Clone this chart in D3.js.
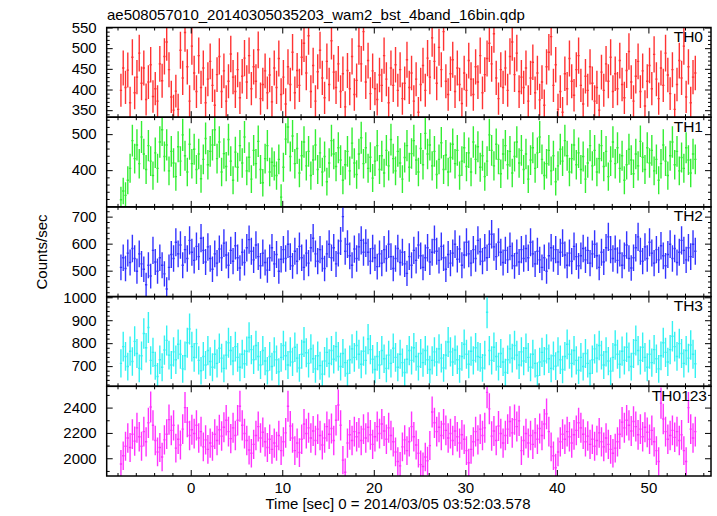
<!DOCTYPE html>
<html><head><meta charset="utf-8">
<script src="https://cdn.jsdelivr.net/npm/d3@7"></script>
<style>body{margin:0;background:#fff}svg{display:block}</style>
</head><body>
<svg id="c" width="717" height="516"></svg>
<script>
// ---- data (counts/sec, 0.25 s bins starting at t = -7.75 s) ----
const binWidth = 0.25;
const tStart = -7.75;
const th0 = [
398,452,405,447,368,478,392,430, 488,415,452,376,418,460,383,402,
372,462,421,480,515,448,382,350, 396,352,495,428,538,455,372,505,
440,395,482,405,452,368,425,468, 410,362,436,480,395,445,372,420,
486,430,395,448,380,432,476,418, 482,402,455,420,496,378,412,445,
392,435,370,452,405,475,388,430, 365,455,412,490,392,446,410,478,
512,440,530,395,458,372,443,495, 428,380,468,412,518,442,405,462,
395,438,358,446,402,480,388,422, 505,462,540,418,470,390,445,402,
376,435,410,482,425,368,452,410, 460,398,448,378,415,472,405,440,
372,425,345,412,458,398,476,430, 525,468,415,502,448,540,420,388,
438,472,395,452,412,366,440,398, 470,425,388,455,418,482,392,436,
475,512,462,535,428,378,448,405, 452,398,480,515,436,488,395,430,
405,452,372,428,466,392,440,375, 418,362,455,490,528,410,460,352,
395,345,438,402,475,420,386,448, 482,410,365,432,398,455,415,372,
405,350,442,398,462,420,478,395, 438,402,470,412,380,446,492,418,
372,432,468,395,445,360,420,458, 402,485,425,378,452,410,488,435,
390,448,352,412,470,428,505,382, 455,368,430,440];
const th1 = [
318,342,330,372,405,482,432,470, 418,492,445,402,468,425,385,448,
405,478,512,438,470,398,452,420, 382,465,425,498,440,395,472,418,
458,402,445,376,430,488,415,452, 470,512,432,478,395,446,410,485,
425,372,450,408,468,420,492,398, 436,375,455,418,480,402,365,432,
468,395,422,412,385,430,325,408, 486,520,438,495,418,460,392,440,
478,412,452,385,428,470,402,448, 395,438,368,420,482,445,410,462,
428,372,415,452,398,475,420,388, 445,490,418,462,405,436,378,425,
468,402,440,392,455,412,485,432, 398,452,420,375,435,468,408,446,
482,428,395,460,415,502,445,470, 412,452,388,430,476,402,442,395,
435,472,418,455,385,425,462,410, 448,395,478,430,465,408,440,382,
425,498,455,412,472,430,390,445, 468,415,452,392,438,478,420,455,
402,445,375,428,462,405,448,492, 430,385,418,455,398,440,368,412,
458,425,482,440,395,432,470,415, 448,402,438,375,420,468,412,455,
395,432,468,410,452,382,425,478, 418,462,405,440,372,415,458,428,
390,445,412,480,436,402,462,420, 455,398,430,372,418,470,425,385,
440,478,415,452,398,435,405,462, 428,392,445,430];
const th2 = [
512,548,508,565,530,582,545,498, 562,525,505,448,520,480,575,532,
498,548,520,488,432,512,560,545, 605,562,595,520,578,545,612,568,
538,590,552,620,575,532,588,545, 505,562,528,580,548,602,558,520,
575,535,592,548,510,568,530,585, 615,572,540,595,552,518,565,530,
502,548,585,525,560,498,542,578, 545,598,552,518,572,535,590,548,
512,565,528,585,620,562,535,578, 545,508,562,598,548,585,525,565,
610,700,572,598,555,520,580,545, 588,612,568,602,568,535,582,548,
515,562,528,578,545,598,552,508, 545,582,530,568,525,490,552,520,
575,538,595,555,512,548,585,532, 568,615,572,538,590,548,505,560,
528,565,598,542,580,520,558,605, 562,528,578,545,612,570,535,585,
548,598,635,588,552,605,568,530, 575,540,590,555,518,565,532,578,
545,582,548,605,562,525,572,540, 512,548,498,555,585,545,578,532,
568,602,558,520,565,535,590,552, 518,555,582,540,575,528,562,598,
555,512,568,532,585,625,578,545, 580,538,565,520,555,595,545,510,
548,585,625,572,535,588,545,605, 565,528,578,540,592,555,518,560,
598,545,582,530,568,612,575,540, 585,552,598,572];
const th3 = [
712,785,742,698,765,720,808,755, 690,745,842,780,868,725,760,702,
655,728,695,770,812,748,705,762, 728,795,752,688,745,802,862,785,
738,798,725,680,742,705,768,720, 695,752,712,778,735,690,748,802,
768,722,785,738,695,752,710,765, 825,772,728,790,742,705,768,722,
680,742,698,762,728,675,738,790, 745,705,762,718,782,735,692,752,
805,758,712,775,732,688,745,702, 665,722,760,712,768,730,785,742,
698,755,715,668,728,775,738,790, 752,708,765,725,818,772,730,685,
742,705,768,732,690,748,712,778, 738,695,752,715,672,730,768,725,
780,742,698,755,715,768,728,685, 725,762,718,775,735,692,748,805,
762,718,770,728,688,742,795,752, 708,765,725,780,742,738,692,748,
935,768,725,782,742,698,755,718, 672,728,775,735,790,748,705,762,
722,778,738,695,752,712,658,718, 760,722,775,732,690,745,700,762,
728,685,742,795,752,712,768,725, 682,738,698,755,712,668,728,775,
735,790,748,705,762,722,678,738, 792,752,708,765,725,782,740,698,
755,812,768,725,782,738,695,752, 715,772,732,688,745,802,760,718,
772,830,785,742,798,755,712,768, 735,792,752,710];
const th0123 = [
1955,2020,2095,2160,2085,2190,2135,2240, 2170,2095,2210,2130,2280,2405,2260,2140,
2050,2085,2010,2145,2190,2305,2220,2260, 2080,2150,2105,2230,2400,2285,2180,2225,
2195,2260,2160,2210,2090,2145,2070,2120, 2095,2190,2140,2225,2175,2245,2300,2210,
2155,2240,2180,2300,2410,2260,2195,2140, 2065,2040,2110,2180,2250,2160,2205,2130,
2085,2150,2070,2120,2095,2180,2060,2130, 2200,2410,2255,2160,2060,2120,2045,2150,
2270,2195,2240,2160,2215,2140,2230,2180, 2105,2160,2250,2190,2235,2140,2300,2420,
2260,1985,1890,2120,2185,2140,2210,2170, 2200,2140,2230,2160,2245,2185,2110,2170,
2250,2195,2270,2215,2150,2240,2180,2130, 2050,1975,1940,2090,2145,2060,2130,2250,
2170,2105,2040,1950,1935,2010,1980,2100, 2365,2280,2210,2245,2180,2270,2220,2160,
2195,2140,2215,2170,2120,2185,2150,2060, 1965,2070,2130,2210,2145,2230,2180,2240,
2520,2390,2175,2215,2140,2255,2195,2120, 2180,2230,2290,2200,2305,2250,2295,2060,
2140,2195,2120,2180,2110,2200,2150,2235, 2180,2270,2350,2210,2090,2020,1925,2050,
2130,2190,2150,2210,2170,2120,2185,2220, 2280,2240,2190,2130,2175,2110,2150,2095,
2140,2200,2130,2090,2160,2110,2070,2040, 2080,2130,2190,2285,2240,2300,2260,2215,
2290,2250,2185,2230,2170,2245,2205,2150, 2220,2130,2060,1975,2435,2310,2210,2150,
2180,2220,2165,2210,2140,2185,2060,1975, 2400,2230,2160,2210];

const seriesNames = ["TH0","TH1","TH2","TH3","TH0123"];
const seriesValues = [th0, th1, th2, th3, th0123];
const seriesColors = ["#ff3333","#33ee33","#3333ff","#33f2f2","#ff33ff"];
// statistical error scale relative to plain Poisson
const errScale = [1.0, 1.0, 1.05, 1.15, 1.25];
const yDomains = [[333,550],[298,547],[404,736],[612,1003],[1860,2568]];
const yTickLabels = [[350,400,450,500,550],[400,500],[500,600,700],[700,800,900,1000],[2000,2200,2400]];
const yMinorStep = [10,20,20,20,100];
const xDomain = [-9.18, 56.84];
const xTickLabels = [0,10,20,30,40,50];
const xMinorStep = 2;

const titleText = "ae508057010_20140305035203_wam2_bst_4band_16bin.qdp";
const xLabelText = "Time [sec] 0 = 2014/03/05 03:52:03.578";
const yLabelText = "Counts/sec";

// ---- layout ----
const svg = d3.select("#c");
const left = 106.7, right = 711, top0 = 27.5, bottom = 476;
const nP = seriesNames.length;
const pH = (bottom - top0) / nP;
const font = "'Liberation Sans', Arial, Helvetica, sans-serif";

const x = d3.scaleLinear().domain(xDomain).range([left, right]);
const xMinor = d3.range(-8, 57, xMinorStep).filter(v => v % 10 !== 0);

svg.append("text").attr("x", 107).attr("y", 19.5)
  .attr("font-family", font).attr("font-size", 15).attr("fill", "#000").text(titleText);

const defs = svg.append("defs");

seriesNames.forEach((name, p) => {
  const pt = top0 + p * pH, pb = pt + pH;
  const y = d3.scaleLinear().domain(yDomains[p]).range([pb, pt]);
  const g = svg.append("g");

  defs.append("clipPath").attr("id", "clip" + p)
    .append("rect").attr("x", left).attr("y", pt).attr("width", right - left).attr("height", pH);

  // data with error bars
  const vals = seriesValues[p];
  let d = "";
  vals.forEach((v, i) => {
    const t0 = tStart + i * binWidth, t1 = t0 + binWidth, tc = t0 + binWidth / 2;
    const err = errScale[p] * Math.sqrt(v * binWidth) / binWidth;
    d += `M${x(t0)},${y(v)}H${x(t1)}M${x(tc)},${y(v - err)}V${y(v + err)}`;
  });
  g.append("path").attr("d", d).attr("fill", "none")
    .attr("stroke", seriesColors[p]).attr("stroke-width", 1.4)
    .attr("clip-path", `url(#clip${p})`);

  // y axes (inward ticks)
  const [lo, hi] = yDomains[p];
  const step = yMinorStep[p];
  const minorVals = d3.range(Math.ceil(lo / step) * step, hi + 0.001, step)
    .filter(v => !yTickLabels[p].includes(v));
  const axL = svg.append("g").attr("transform", `translate(${left},0)`)
    .call(d3.axisLeft(y).tickValues(yTickLabels[p]).tickSize(-6).tickPadding(10).tickFormat(d3.format("d")));
  axL.selectAll("text").attr("font-family", font).attr("font-size", 15).attr("fill", "#000");
  svg.append("g").attr("transform", `translate(${left},0)`)
    .call(d3.axisLeft(y).tickValues(minorVals).tickSize(-3).tickFormat(""));
  svg.append("g").attr("transform", `translate(${right},0)`)
    .call(d3.axisRight(y).tickValues(yTickLabels[p]).tickSize(-6).tickFormat(""));
  svg.append("g").attr("transform", `translate(${right},0)`)
    .call(d3.axisRight(y).tickValues(minorVals).tickSize(-3).tickFormat(""));

  // x ticks top and bottom
  svg.append("g").attr("transform", `translate(0,${pb})`)
    .call(d3.axisBottom(x).tickValues(xTickLabels).tickSize(-6).tickFormat(""));
  svg.append("g").attr("transform", `translate(0,${pb})`)
    .call(d3.axisBottom(x).tickValues(xMinor).tickSize(-3).tickFormat(""));
  svg.append("g").attr("transform", `translate(0,${pt})`)
    .call(d3.axisTop(x).tickValues(xTickLabels).tickSize(-6).tickFormat(""));
  svg.append("g").attr("transform", `translate(0,${pt})`)
    .call(d3.axisTop(x).tickValues(xMinor).tickSize(-3).tickFormat(""));

  // frame
  svg.append("rect").attr("x", left).attr("y", pt).attr("width", right - left).attr("height", pH)
    .attr("fill", "none").attr("stroke", "#000").attr("stroke-width", 1.5);

  // panel label
  svg.append("text").attr("x", name === "TH0123" ? 707 : 703).attr("y", pt + 14.5)
    .attr("text-anchor", "end").attr("font-family", font).attr("font-size", 15.5)
    .attr("fill", "#000").text(name);
});

svg.selectAll(".domain").remove();
svg.selectAll(".tick line").attr("stroke", "#000").attr("stroke-width", 1);

// bottom x labels
const axB = svg.append("g").attr("transform", `translate(0,${bottom})`)
  .call(d3.axisBottom(x).tickValues(xTickLabels).tickSize(0).tickPadding(6).tickFormat(d3.format("d")));
axB.select(".domain").remove();
axB.selectAll("text").attr("font-family", font).attr("font-size", 15).attr("fill", "#000");

svg.append("text").attr("x", 398).attr("y", 509).attr("text-anchor", "middle")
  .attr("font-family", font).attr("font-size", 15).attr("fill", "#000").text(xLabelText);

svg.append("text").attr("transform", `translate(47,252) rotate(-90)`).attr("text-anchor", "middle")
  .attr("font-family", font).attr("font-size", 15).attr("fill", "#000").text(yLabelText);
</script>
</body></html>
